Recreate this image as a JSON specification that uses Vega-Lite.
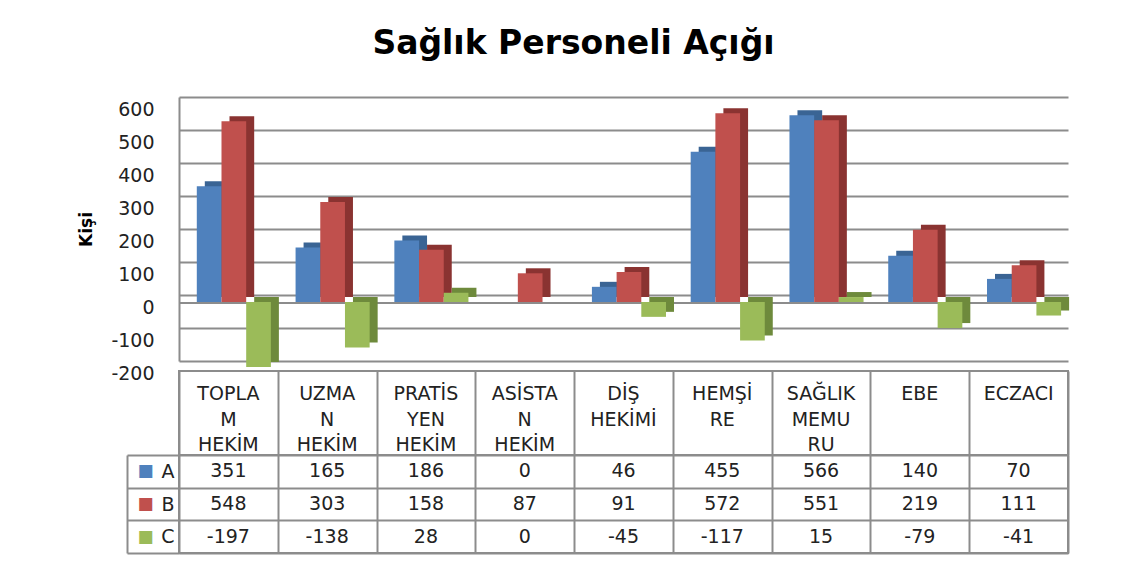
{
  "$schema": "https://vega.github.io/schema/vega-lite/v6.json",
  "padding": {"left": 77, "top": 28, "right": 10, "bottom": 5},
  "bounds": "flush",
  "spacing": 10,
  "title": {"text": "Sağlık Personeli Açığı", "fontSize": 33, "font": "DejaVu Sans", "fontWeight": "bold", "anchor": "middle", "frame": "bounds", "offset": 36, "color": "#000000"},
  "config": {"font": "DejaVu Sans", "view": {"stroke": "#8c8c8c", "strokeWidth": 2}},
  "datasets": {
    "bars": [
      {"cat": "TOPLAM HEKİM", "series": "A", "value": 351},
      {"cat": "UZMAN HEKİM", "series": "A", "value": 165},
      {"cat": "PRATİSYEN HEKİM", "series": "A", "value": 186},
      {"cat": "ASİSTAN HEKİM", "series": "A", "value": 0},
      {"cat": "DİŞ HEKİMİ", "series": "A", "value": 46},
      {"cat": "HEMŞİRE", "series": "A", "value": 455},
      {"cat": "SAĞLIK MEMURU", "series": "A", "value": 566},
      {"cat": "EBE", "series": "A", "value": 140},
      {"cat": "ECZACI", "series": "A", "value": 70},
      {"cat": "TOPLAM HEKİM", "series": "B", "value": 548},
      {"cat": "UZMAN HEKİM", "series": "B", "value": 303},
      {"cat": "PRATİSYEN HEKİM", "series": "B", "value": 158},
      {"cat": "ASİSTAN HEKİM", "series": "B", "value": 87},
      {"cat": "DİŞ HEKİMİ", "series": "B", "value": 91},
      {"cat": "HEMŞİRE", "series": "B", "value": 572},
      {"cat": "SAĞLIK MEMURU", "series": "B", "value": 551},
      {"cat": "EBE", "series": "B", "value": 219},
      {"cat": "ECZACI", "series": "B", "value": 111},
      {"cat": "TOPLAM HEKİM", "series": "C", "value": -197},
      {"cat": "UZMAN HEKİM", "series": "C", "value": -138},
      {"cat": "PRATİSYEN HEKİM", "series": "C", "value": 28},
      {"cat": "ASİSTAN HEKİM", "series": "C", "value": 0},
      {"cat": "DİŞ HEKİMİ", "series": "C", "value": -45},
      {"cat": "HEMŞİRE", "series": "C", "value": -117},
      {"cat": "SAĞLIK MEMURU", "series": "C", "value": 15},
      {"cat": "EBE", "series": "C", "value": -79},
      {"cat": "ECZACI", "series": "C", "value": -41}
    ],
    "heads": [
      {"cat": "TOPLAM HEKİM", "label": "TOPLA\nM\nHEKİM"},
      {"cat": "UZMAN HEKİM", "label": "UZMA\nN\nHEKİM"},
      {"cat": "PRATİSYEN HEKİM", "label": "PRATİS\nYEN\nHEKİM"},
      {"cat": "ASİSTAN HEKİM", "label": "ASİSTA\nN\nHEKİM"},
      {"cat": "DİŞ HEKİMİ", "label": "DİŞ\nHEKİMİ"},
      {"cat": "HEMŞİRE", "label": "HEMŞİ\nRE"},
      {"cat": "SAĞLIK MEMURU", "label": "SAĞLIK\nMEMU\nRU"},
      {"cat": "EBE", "label": "EBE"},
      {"cat": "ECZACI", "label": "ECZACI"}
    ]
  },
  "vconcat": [
    {
      "width": 889,
      "height": 264,
      "view": {"stroke": null},
      "data": {"name": "bars"},
      "transform": [{"calculate": "datum.cat + '|' + datum.series", "as": "slot"}],
      "encoding": {
        "y": {"field": "value", "type": "quantitative", "scale": {"domain": [-200, 600], "nice": false},
          "axis": {"title": "Kişi", "titleFontSize": 17, "titleFontWeight": "bold", "titleColor": "#000000", "titlePadding": 15,
            "values": [-200, -100, 0, 100, 200, 300, 400, 500, 600], "tickCount": 9, "labelExpr": "datum.value + ''",
            "labelFontSize": 19, "labelColor": "#222222", "labelPadding": 25, "labelOffset": 12, "labelOverlap": false,
            "ticks": false, "domain": true, "domainColor": "#8c8c8c", "domainWidth": 2,
            "grid": true, "gridColor": "#8c8c8c", "gridWidth": 2}}
      },
      "layer": [
        {
          "mark": {"type": "rule", "yOffset": 8, "color": "#8c8c8c", "strokeWidth": 2},
          "transform": [{"filter": "datum.series === 'A' && datum.cat === 'EBE'"}],
          "encoding": {"y": {"datum": 0, "type": "quantitative",
              "axis": {"title": "Kişi", "titleFontSize": 17, "titleFontWeight": "bold", "titleColor": "#000000", "titlePadding": 15,
                "values": [-200, -100, 0, 100, 200, 300, 400, 500, 600], "tickCount": 9, "labelExpr": "datum.value + ''",
                "labelFontSize": 19, "labelColor": "#222222", "labelPadding": 25, "labelOffset": 12, "labelOverlap": false,
                "ticks": false, "domain": true, "domainColor": "#8c8c8c", "domainWidth": 2,
                "grid": true, "gridColor": "#8c8c8c", "gridWidth": 2}}}
        },
        {
          "mark": {"type": "bar", "xOffset": 25.8, "yOffset": 2},
          "encoding": {
            "x": {"field": "slot", "type": "nominal", "scale": {"domain": [
              "TOPLAM HEKİM|A", "TOPLAM HEKİM|B", "TOPLAM HEKİM|C", "TOPLAM HEKİM|_",
              "UZMAN HEKİM|A", "UZMAN HEKİM|B", "UZMAN HEKİM|C", "UZMAN HEKİM|_",
              "PRATİSYEN HEKİM|A", "PRATİSYEN HEKİM|B", "PRATİSYEN HEKİM|C", "PRATİSYEN HEKİM|_",
              "ASİSTAN HEKİM|A", "ASİSTAN HEKİM|B", "ASİSTAN HEKİM|C", "ASİSTAN HEKİM|_",
              "DİŞ HEKİMİ|A", "DİŞ HEKİMİ|B", "DİŞ HEKİMİ|C", "DİŞ HEKİMİ|_",
              "HEMŞİRE|A", "HEMŞİRE|B", "HEMŞİRE|C", "HEMŞİRE|_",
              "SAĞLIK MEMURU|A", "SAĞLIK MEMURU|B", "SAĞLIK MEMURU|C", "SAĞLIK MEMURU|_",
              "EBE|A", "EBE|B", "EBE|C", "EBE|_",
              "ECZACI|A", "ECZACI|B", "ECZACI|C", "ECZACI|_"], "paddingInner": 0, "paddingOuter": 0}, "axis": null},
            "color": {"field": "series", "type": "nominal", "scale": {"domain": ["A", "B", "C"], "range": ["#3A6494", "#8A3331", "#6E8A3C"]}, "legend": null}
          }
        },
        {
          "mark": {"type": "bar", "xOffset": 17.8, "yOffset": 7},
          "encoding": {
            "x": {"field": "slot", "type": "nominal", "axis": null},
            "color": {"field": "series", "type": "nominal", "scale": {"domain": ["A", "B", "C"], "range": ["#4F81BD", "#C0504D", "#9BBB59"]}, "legend": null}
          }
        }
      ],
      "resolve": {"scale": {"color": "independent"}}
    },
    {
      "spacing": 0,
      "bounds": "flush",
      "vconcat": [
        {
          "width": 889,
          "height": 84,
          "data": {"name": "heads"},
          "mark": {"type": "text", "baseline": "top", "lineBreak": "\n", "lineHeight": 25.5, "fontSize": 19, "color": "#222222", "yOffset": -28},
          "encoding": {
            "x": {"field": "cat", "type": "nominal", "scale": {"domain": ["TOPLAM HEKİM", "UZMAN HEKİM", "PRATİSYEN HEKİM", "ASİSTAN HEKİM", "DİŞ HEKİMİ", "HEMŞİRE", "SAĞLIK MEMURU", "EBE", "ECZACI"], "paddingInner": 0, "paddingOuter": 0},
              "axis": {"title": null, "labels": false, "ticks": false, "domain": false, "grid": true, "tickBand": "extent", "gridColor": "#8c8c8c", "gridWidth": 2}},
            "text": {"field": "label", "type": "nominal"}
          }
        },
        {
          "width": 889,
          "height": 98,
          "data": {"name": "bars"},
          "layer": [
            {
              "mark": {"type": "text", "fontSize": 19, "color": "#222222"},
              "encoding": {
                "x": {"field": "cat", "type": "nominal", "scale": {"domain": ["TOPLAM HEKİM", "UZMAN HEKİM", "PRATİSYEN HEKİM", "ASİSTAN HEKİM", "DİŞ HEKİMİ", "HEMŞİRE", "SAĞLIK MEMURU", "EBE", "ECZACI"], "paddingInner": 0, "paddingOuter": 0},
                  "axis": {"title": null, "labels": false, "ticks": false, "domain": false, "grid": true, "tickBand": "extent", "gridColor": "#8c8c8c", "gridWidth": 2}},
                "y": {"field": "series", "type": "nominal", "scale": {"domain": ["A", "B", "C"], "paddingInner": 0, "paddingOuter": 0},
                  "axis": {"title": null, "labelFontSize": 19, "labelColor": "#222222", "ticks": true, "tickSize": 52, "tickBand": "extent", "tickColor": "#8c8c8c", "tickWidth": 2, "labelPadding": -47, "domain": false, "grid": true, "gridColor": "#8c8c8c", "gridWidth": 2}},
                "text": {"field": "value", "type": "nominal"}
              }
            },
            {
              "mark": {"type": "text", "opacity": 0},
              "encoding": {
                "x": {"field": "cat", "type": "nominal"},
                "y": {"field": "series", "type": "nominal",
                  "axis": {"orient": "left", "offset": 52, "title": null, "labelExpr": "'■'", "labelAlign": "left", "labelPadding": -10, "labelFontSize": 17,
                    "labelColor": {"condition": [{"test": "datum.value === 'A'", "value": "#4F81BD"}, {"test": "datum.value === 'B'", "value": "#C0504D"}], "value": "#9BBB59"},
                    "ticks": false, "domain": true, "domainColor": "#8c8c8c", "domainWidth": 2, "grid": false}},
                "text": {"field": "value", "type": "nominal"}
              }
            }
          ],
          "resolve": {"axis": {"y": "independent"}}
        }
      ]
    }
  ]
}
